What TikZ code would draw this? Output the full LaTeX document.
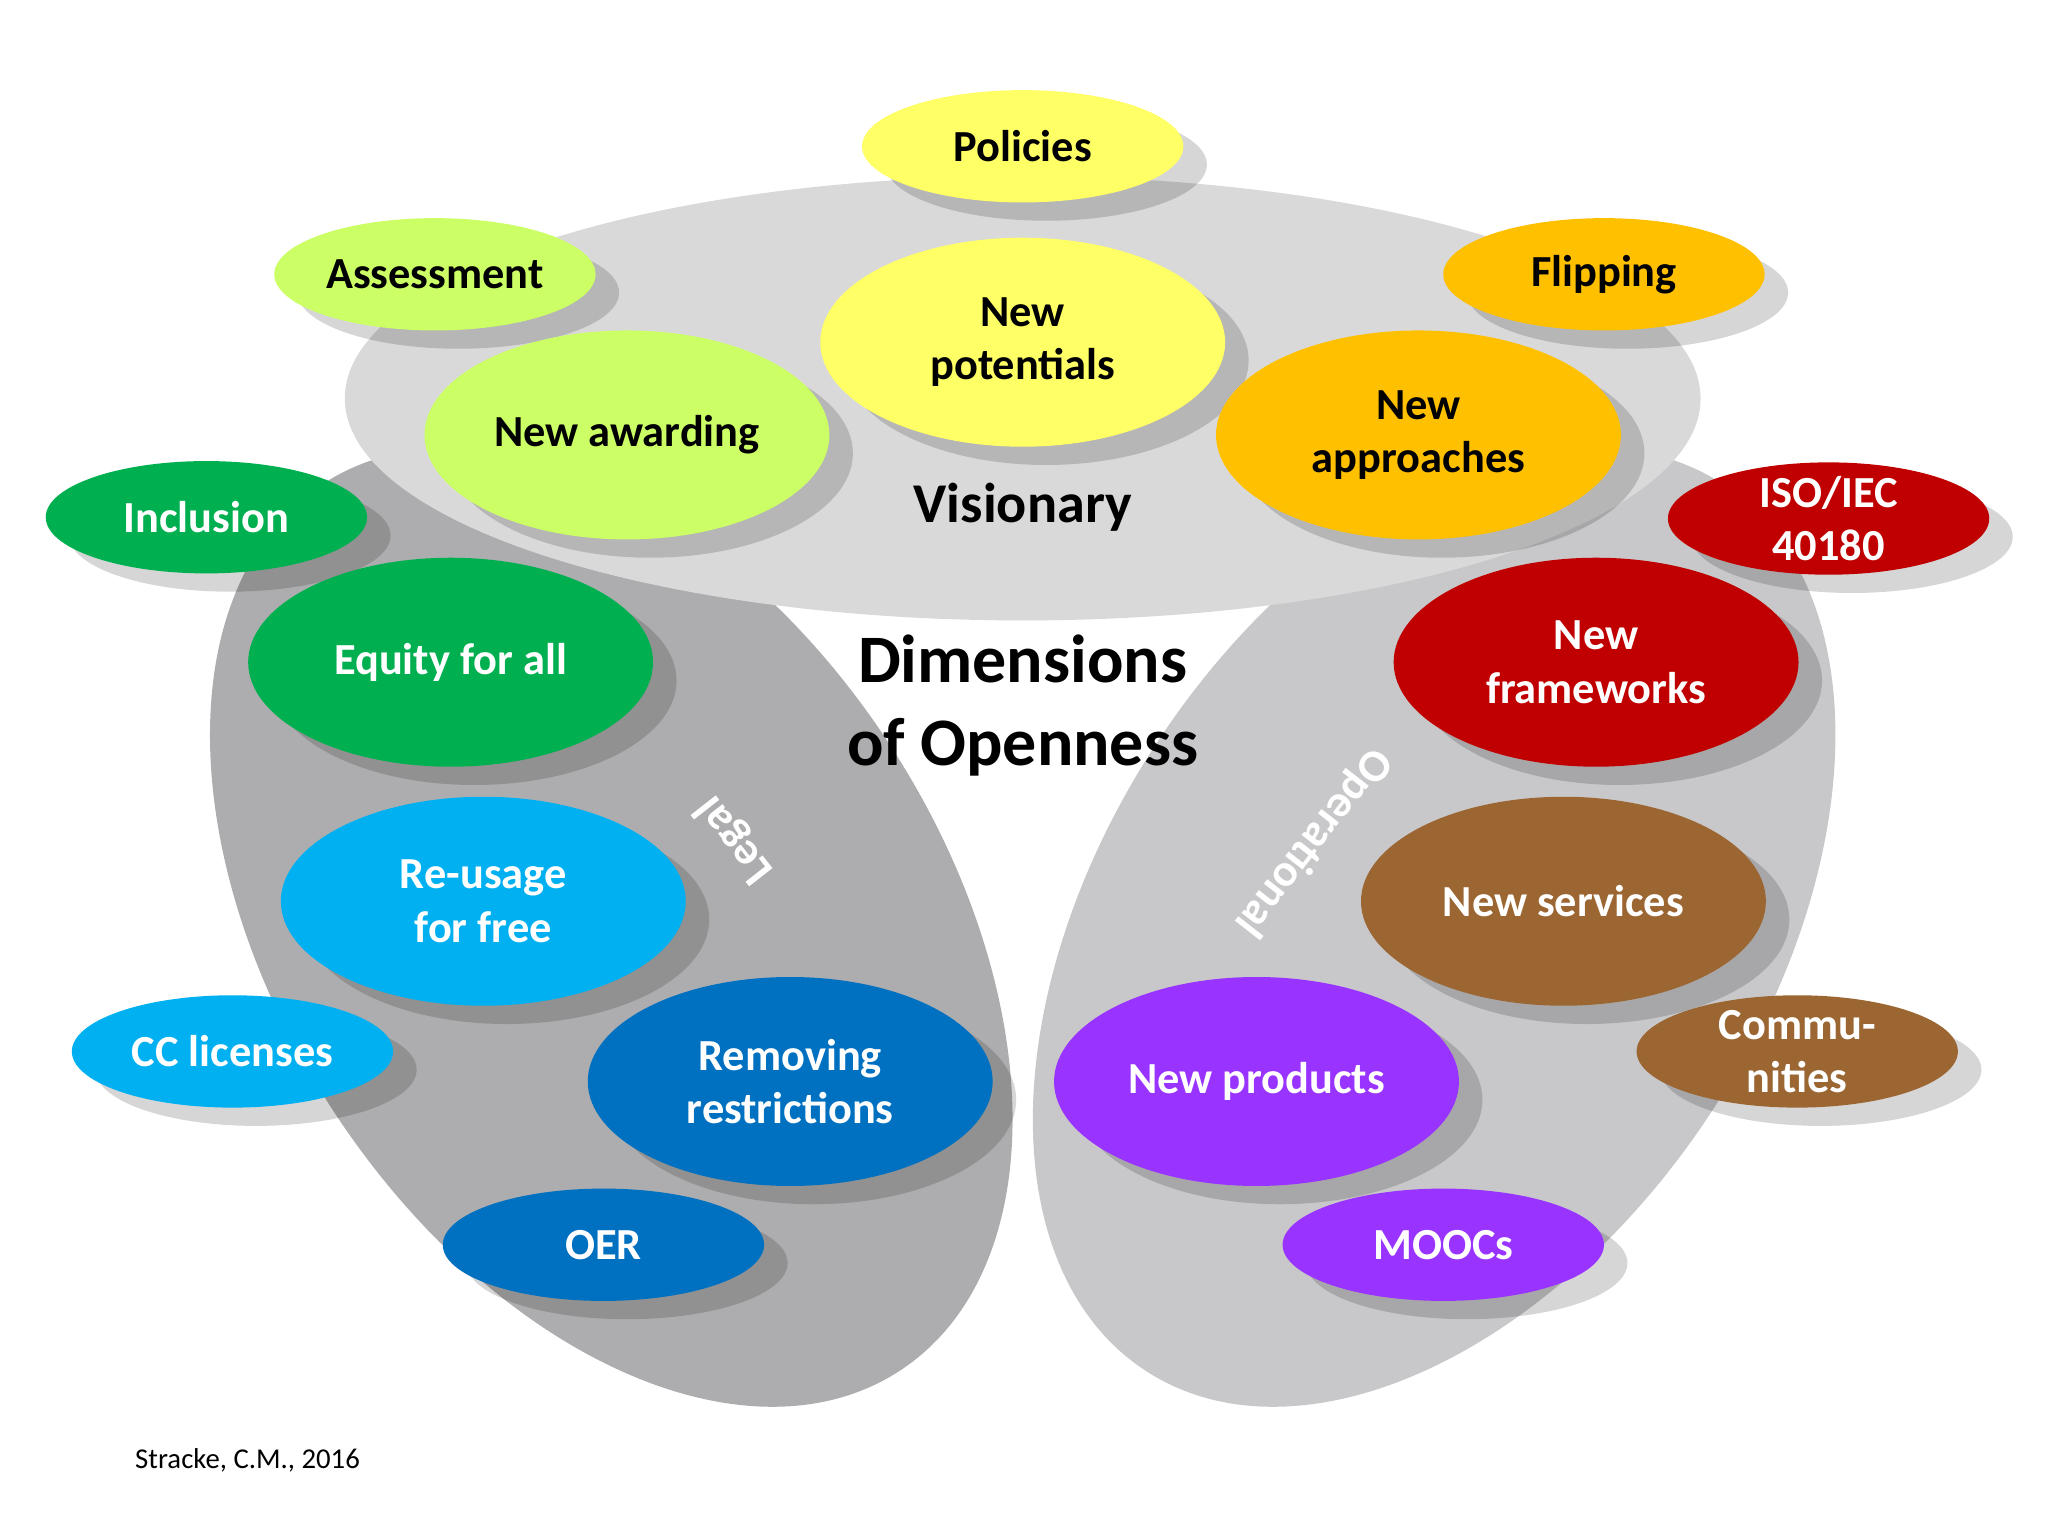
\documentclass[tikz,border=0pt]{standalone}
\usepackage{fontspec}
\setmainfont{Carlito}
\usetikzlibrary{shapes.geometric}
\begin{document}
\begin{tikzpicture}[x=1pt,y=-1pt,
  shd/.style={fill=black,opacity=0.16}]
\useasboundingbox (0,0) rectangle (1568,1176);
\fill[white] (0,0) rectangle (1568,1176);
\definecolor{cyel}{HTML}{FFFF66}\definecolor{clg}{HTML}{CCFF66}\definecolor{corg}{HTML}{FFC000}
\definecolor{cgrn}{HTML}{00B050}\definecolor{cred}{HTML}{C00000}\definecolor{ccy}{HTML}{00B0F0}
\definecolor{cbr}{HTML}{9C6632}\definecolor{cbl}{HTML}{0070C0}\definecolor{cpu}{HTML}{9933FF}
% gray petals
\fill[color={rgb,255:red,173;green,173;blue,175}, shift={(468,710)}, rotate=-57] (0,0) ellipse [x radius=405, y radius=255];
\fill[color={rgb,255:red,200;green,200;blue,202}, shift={(1098,710)}, rotate=57] (0,0) ellipse [x radius=405, y radius=255];
\fill[color={rgb,255:red,217;green,217;blue,217}] (783,305) ellipse [x radius=519, y radius=170];
\node[font=\fontsize{43}{48}\selectfont\bfseries] (vis) at (783,388) {Visionary};
\node[font=\fontsize{52}{64}\selectfont\bfseries,align=center] (dim) at (783,540) {Dimensions\\of Openness};
\node[font=\fontsize{35}{40}\selectfont\bfseries,text=white,rotate=128] (leg) at (563,643) {Legal};
\node[font=\fontsize{35}{40}\selectfont\bfseries,text=white,rotate=-128] (ope) at (1005,645) {Operational};
% bubbles
\def\B#1#2#3#4#5#6{%
  \fill[shd] (#2+18,#3+14) ellipse [x radius=#4, y radius=#5];
  \node[ellipse,fill=#6,minimum width=2*#4 pt,minimum height=2*#5 pt,inner sep=0pt] (#1) at (#2,#3) {};}
\B{pol}{783}{112}{123}{43}{cyel}
\B{ass}{333}{210}{123}{43}{clg}
\B{fli}{1228}{210}{123}{43}{corg}
\B{pot}{783}{262}{155}{80}{cyel}
\B{awa}{480}{333}{155}{80}{clg}
\B{app}{1086}{333}{155}{80}{corg}
\B{inc}{158}{396}{123}{43}{cgrn}
\B{iso}{1400}{397}{123}{43}{cred}
\B{equ}{345}{507}{155}{80}{cgrn}
\B{fra}{1222}{507}{155}{80}{cred}
\B{reu}{370}{690}{155}{80}{ccy}
\B{ser}{1197}{690}{155}{80}{cbr}
\B{ccl}{178}{805}{123}{43}{ccy}
\B{com}{1376}{805}{123}{43}{cbr}
\B{rem}{605}{828}{155}{80}{cbl}
\B{pro}{962}{828}{155}{80}{cpu}
\B{oer}{462}{953}{123}{43}{cbl}
\B{moo}{1105}{953}{123}{43}{cpu}
\tikzset{lab/.style={font=\fontsize{34}{41}\selectfont\bfseries,align=center}}
\node[lab] at (pol) {Policies};
\node[lab] at (ass) {Assessment};
\node[lab] at (fli) {Flipping};
\node[lab] at (pot) {New\\potentials};
\node[lab] at (awa) {New awarding};
\node[lab] at (app) {New\\approaches};
\node[lab,text=white] at (inc) {Inclusion};
\node[lab,text=white] at (iso) {ISO/IEC\\40180};
\node[lab,text=white] at (equ) {Equity for all};
\node[lab,text=white] at (fra) {New\\frameworks};
\node[lab,text=white] at (reu) {Re-usage\\for free};
\node[lab,text=white] at (ser) {New services};
\node[lab,text=white] at (ccl) {CC licenses};
\node[lab,text=white] at (com) {Commu-\\nities};
\node[lab,text=white] at (rem) {Removing\\restrictions};
\node[lab,text=white] at (pro) {New products};
\node[lab,text=white] at (oer) {OER};
\node[lab,text=white] at (moo) {MOOCs};
\node[anchor=west,font=\fontsize{22}{26}\selectfont] (src) at (100,1118) {Stracke, C.M., 2016};
\end{tikzpicture}
\end{document}
